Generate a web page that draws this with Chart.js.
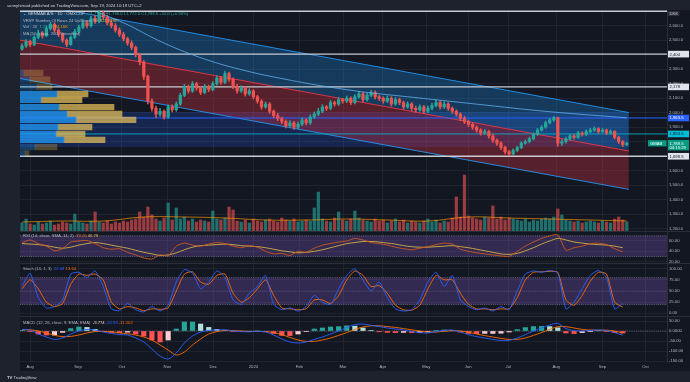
<!DOCTYPE html>
<html><head><meta charset="utf-8"><title>GENMAB A/S · 1D · OMXCOP</title>
<script src="https://cdn.jsdelivr.net/npm/chart.js@4.4.1/dist/chart.umd.min.js"></script>
<style>
html,body{margin:0;padding:0;background:#1e222d;}
#wrap{position:relative;width:690px;height:382px;overflow:hidden;background:#1e222d;}
#plot{position:absolute;left:20px;top:10px;width:670px;height:361px;background:#131722;}
canvas{position:absolute;left:0;}
.sep{position:absolute;left:20px;width:670px;height:1px;background:#2a2e39;}
.t{position:absolute;font-family:"Liberation Sans",Arial,sans-serif;font-size:8.4px;line-height:10px;color:#b2b5be;white-space:nowrap;transform:scale(0.5);transform-origin:0 0;}
</style></head><body>
<div id="wrap">
<div id="plot"></div>
<div class="sep" style="top:231px"></div>
<div class="sep" style="top:263px"></div>
<div class="sep" style="top:316px"></div>
<canvas id="cMain" width="690" height="231" style="top:5px"></canvas>
<canvas id="cVP" width="690" height="231" style="top:5px"></canvas>
<canvas id="cRsi" width="690" height="42" style="top:226px"></canvas>
<canvas id="cSto" width="690" height="63" style="top:258px"></canvas>
<canvas id="cMacd" width="690" height="65" style="top:311px"></canvas>
<div class="t" style="left:7px;top:2.5px;color:#d1d4dc">sunnyhimsid published on TradingView.com, Sep 19, 2024 10:19 UTC+2</div>
<div class="t" style="left:23px;top:11px"><span style="color:#d1d4dc">⌄ GENMAB A/S · 1D · OMXCOP</span> &nbsp;<span style="color:#26a69a">O1,779.5 H1,796.0 L1,772.0 C1,789.5 +10.0 (+0.56%)</span></div>
<div class="t" style="left:23px;top:17.5px">VRVP Number Of Rows 24 Up/Down 70 &nbsp;<span style="color:#e0b848">821.929K</span></div>
<div class="t" style="left:23px;top:24px">Vol · 20 &nbsp;<span style="color:#26a69a">1.237M</span> <span style="color:#ff9800">84.16K</span></div>
<div class="t" style="left:23px;top:30.5px">MA (50, close, 200, Smoothed)</div>
<div class="t" style="left:668px;top:11px;background:#2a2e39;color:#d1d4dc;padding:0 3px">DKK</div>
<div class="t" style="left:23px;top:233px">RSI (14, close, SMA, 14, 2) &nbsp;<span style="color:#e0662a">39.26</span> <span style="color:#e0b848">46.78</span></div>
<div class="t" style="left:23px;top:266px">Stoch (14, 1, 3) &nbsp;<span style="color:#2962ff">22.08</span> <span style="color:#ff6d00">13.64</span></div>
<div class="t" style="left:23px;top:319.5px">MACD (12, 26, close, 9, EMA, EMA) &nbsp;<span style="color:#ffcdd2">-9.774</span> <span style="color:#2962ff">-20.98</span> <span style="color:#ff6d00">-11.202</span></div>
<div class="t" style="left:7px;top:374.5px;color:#d1d4dc"><b>TV</b> TradingView</div>
</div>
<script>
// ---------- DATA ----------
const opens=[2440,2460,2490,2470,2520,2550,2530,2580,2610,2570,
2540,2500,2470,2520,2560,2590,2620,2600,2650,2630,
2690,2660,2620,2600,2570,2540,2510,2480,2450,2400,
2350,2250,2080,2030,1990,2010,1970,2040,2020,2060,
2120,2180,2150,2200,2170,2140,2180,2160,2200,2240,
2210,2270,2230,2180,2150,2170,2130,2150,2110,2080,
2040,2060,2010,1980,1960,1940,1910,1930,1900,1920,
1950,1930,1970,1990,2010,2040,2030,2070,2060,2090,
2080,2100,2070,2110,2130,2090,2120,2140,2110,2100,
2080,2100,2060,2090,2070,2040,2060,2030,2020,2040,
2010,2030,2050,2070,2040,2060,2030,2010,1990,1960,
1940,1920,1900,1880,1860,1870,1840,1810,1790,1760,
1730,1715,1740,1760,1790,1800,1820,1850,1880,1900,
1930,1950,1965,1790,1800,1820,1840,1830,1860,1850,
1870,1880,1890,1870,1880,1860,1870,1830,1800,1779.5];
const highs=[2475,2505,2500,2530,2570,2560,2595,2625,2620,2580,
2550,2510,2530,2575,2605,2640,2635,2665,2670,2710,
2700,2670,2640,2615,2585,2555,2520,2495,2460,2410,
2360,2260,2095,2045,2030,2020,2055,2055,2075,2135,
2195,2190,2215,2210,2180,2195,2190,2215,2255,2250,
2285,2280,2240,2195,2185,2180,2165,2160,2120,2090,
2075,2070,2020,1995,1970,1950,1945,1940,1935,1965,
1960,1985,2005,2030,2055,2050,2085,2080,2105,2100,
2115,2110,2125,2145,2140,2135,2155,2150,2120,2110,
2115,2110,2105,2100,2080,2075,2070,2045,2055,2050,
2045,2065,2085,2080,2075,2070,2040,2020,2000,1975,
1950,1930,1910,1890,1885,1880,1850,1820,1800,1770,
1740,1750,1770,1800,1812,1832,1862,1892,1912,1942,
1962,1975,1970,1815,1832,1852,1850,1872,1868,1882,
1892,1902,1898,1892,1888,1882,1876,1838,1808,1796];
const lows=[2430,2450,2455,2462,2510,2515,2525,2570,2555,2525,
2485,2455,2465,2510,2550,2580,2585,2590,2615,2620,
2645,2605,2585,2555,2525,2495,2465,2435,2385,2330,
2230,2060,2010,1965,1975,1955,1960,2005,2010,2050,
2110,2135,2140,2155,2125,2130,2145,2150,2190,2195,
2200,2215,2165,2135,2140,2115,2120,2095,2065,2025,
2030,1995,1965,1945,1925,1895,1900,1885,1890,1910,
1915,1920,1960,1980,2000,2015,2020,2045,2050,2065,
2070,2055,2060,2100,2075,2080,2110,2095,2085,2065,
2070,2045,2050,2055,2025,2030,2015,2005,2010,1995,
2000,2020,2040,2025,2030,2015,1995,1975,1945,1925,
1905,1885,1865,1845,1850,1825,1795,1775,1745,1715,
1705,1710,1732,1752,1782,1792,1812,1842,1872,1892,
1922,1940,1770,1775,1790,1810,1818,1822,1838,1842,
1862,1872,1858,1862,1848,1852,1818,1788,1766,1772];
const closes=[2460,2490,2470,2520,2550,2530,2580,2610,2570,2540,
2500,2470,2520,2560,2590,2620,2600,2650,2630,2690,
2660,2620,2600,2570,2540,2510,2480,2450,2400,2350,
2250,2080,2030,1990,2010,1970,2040,2020,2060,2120,
2180,2150,2200,2170,2140,2180,2160,2200,2240,2210,
2270,2230,2180,2150,2170,2130,2150,2110,2080,2040,
2060,2010,1980,1960,1940,1910,1930,1900,1920,1950,
1930,1970,1990,2010,2040,2030,2070,2060,2090,2080,
2100,2070,2110,2130,2090,2120,2140,2110,2100,2080,
2100,2060,2090,2070,2040,2060,2030,2020,2040,2010,
2030,2050,2070,2040,2060,2030,2010,1990,1960,1940,
1920,1900,1880,1860,1870,1840,1810,1790,1760,1730,
1715,1740,1760,1790,1800,1820,1850,1880,1900,1930,
1950,1965,1790,1800,1820,1840,1830,1860,1850,1870,
1880,1890,1870,1880,1860,1870,1830,1800,1779.5,1789.5];
const volumes=[8,12,7,6,9,7,8,10,6,7,
9,8,7,17,9,8,7,10,19,9,
8,10,7,9,8,10,9,11,12,19,
14,24,16,12,10,13,28,11,23,12,
14,10,12,9,11,10,9,20,12,11,
13,24,21,10,9,11,8,12,10,9,
11,12,10,9,13,11,10,12,9,10,
11,10,23,39,12,10,9,13,19,11,
10,12,20,13,11,10,9,12,10,11,
8,10,12,9,11,8,10,9,8,10,
12,9,11,8,10,9,13,34,14,56,
15,13,12,11,14,13,25,12,14,11,
13,12,11,10,12,9,11,10,12,13,
12,14,22,16,11,10,9,10,8,9,
10,9,8,10,9,8,12,14,11,9];
const volMAIdx=[0,10,20,30,40,50,60,70,80,90,100,110,120,130,140,149];
const volMA=[9,10,10,14,14,13,11,11,12,11,10,14,13,12,11,10];
const maIdx=[18,25,35,45,55,65,75,85,95,105,115,125,135,149];
const maVals=[2700,2620,2480,2370,2290,2230,2180,2140,2110,2080,2050,2020,1995,1965];

const channelIdx=[-0.5,149.5];
const channelUpper=[2766,2001];
const channelMid=[2501,1736];
const channelLower=[2236,1471];
const vaBand=[2004,1763];
const levelPrices=[2700,2404,2178,1699.5];
const vahPrice=1963.5, pocPrice=1853.5;
const tagPrices=[2404,2178,1963.5,1853.5,1699.5];
const tagTexts=['2,404','2,178','1,963.5','1,853.5','1,699.5'];
const lastPrice=1789.5, lastPriceText='1,789.5', countdownText='04:15:29', symbolTag='GMAB';

const vpRowPrices=[2274,2229,2180,2129,2088,2039,1991,1950,1901,1853,1812,1763,1719];
const vpUp=[4,10,17,37,21,39,47,56,38,36,44,15,5];
const vpDown=[19,20,15,31,41,55,55,60,34,29,41,22,4];
const vaRange=[1790,2150];

const rsiVals=[57,62,55,50,41,45,58,60,61,55,47,44,45,38,33,27,25,33,31,50,56,52,50,54,57,55,50,47,51,48,40,35,36,32,40,38,46,52,55,58,60,65,62,57,55,52,48,45,43,46,49,53,56,54,44,40,37,35,33,31,30,40,50,58,65,70,72,42,47,50,55,56,53,45,39];
const rsiMA=[55,54,53,51,48,46,48,52,55,57,55,52,49,46,42,38,35,32,33,37,43,48,51,52,53,54,53,51,50,49,47,44,41,39,37,38,40,43,47,51,55,57,59,59,58,56,54,51,49,48,48,49,50,51,49,47,44,41,38,35,34,36,41,47,54,60,65,62,58,56,54,53,52,50,47];
const stochK=[60,90,35,12,15,30,88,92,80,95,60,10,6,22,8,3,15,5,18,70,98,90,55,70,95,80,30,20,45,60,85,20,8,12,5,15,40,25,20,55,85,100,75,50,70,35,10,5,8,30,70,92,60,85,30,15,8,12,5,15,8,50,88,95,92,96,90,10,25,55,85,96,80,10,22];
const stochD=[55,75,55,25,15,22,65,88,85,88,75,25,10,15,12,6,10,9,12,50,88,93,70,65,85,88,45,25,35,55,75,40,12,10,8,10,30,30,22,40,75,95,85,60,62,45,18,8,7,18,55,85,75,75,45,20,10,10,8,10,10,35,75,92,93,94,92,30,18,40,72,92,88,25,14];
const macdVals=[8,5,-15,-30,-42,-35,-15,0,8,5,-5,-12,-18,-20,-35,-55,-90,-125,-140,-110,-60,-25,-5,3,5,6,0,-3,-4,-2,-5,-20,-40,-55,-60,-55,-42,-30,-15,0,18,32,35,28,22,15,10,5,-2,-8,-10,-3,3,5,-5,-18,-28,-35,-42,-48,-47,-35,-18,0,15,30,38,12,2,0,3,5,2,-8,-21];
const signalVals=[6,6,0,-10,-22,-28,-27,-20,-10,-3,-2,-5,-10,-14,-20,-30,-45,-70,-95,-120,-105,-70,-40,-15,-3,3,2,0,-2,-2,-3,-8,-18,-32,-45,-52,-52,-45,-35,-22,-8,8,20,26,26,22,18,12,6,0,-5,-5,-2,2,0,-6,-15,-23,-30,-37,-42,-42,-35,-22,-8,8,22,22,15,8,5,4,4,0,-11];
const histVals=[2,-1,-15,-20,-20,-7,12,20,18,8,-3,-7,-8,-6,-15,-25,-45,-55,-45,10,45,45,35,18,8,3,-2,-3,-2,0,-2,-12,-22,-23,-15,-3,10,15,20,22,26,24,15,2,-4,-7,-8,-7,-8,-8,-5,2,5,3,-5,-12,-13,-12,-12,-11,-5,7,17,22,23,22,16,-10,-13,-8,-2,1,-2,-8,-10];
const rsiBand=[70,30];
const stochBand=[80,20];

const monthTickPos=[2.0,13.8,24.6,35.8,47.1,57.0,68.3,79.1,88.9,99.6,109.9,119.8,131.6,143.0,153.6];
const monthTickLabels=['Aug','Sep','Oct','Nov','Dec','2024','Feb','Mar','Apr','May','Jun','Jul','Aug','Sep','Oct'];
const priceTicks=[2600,2500,2300,2200,2100,2000,1900,1800,1600,1500,1400,1300,1200];
const priceTickLabels=['2,600.0','2,500.0','2,300.0','2,200.0','2,100.0','2,000.0','1,900.0','1,800.0','1,600.0','1,500.0','1,400.0','1,300.0','1,200.0'];
const rsiTicks=[60,40,20], rsiTickLabels=['60.00','40.00','20.00'];
const stochTicks=[100,75,50,25,0], stochTickLabels=['100.00','75.00','50.00','25.00','0.00'];
const macdTicks=[50,0,-50,-100,-150], macdTickLabels=['50.00','0.0000','-50.00','-100.00','-150.00'];

// ---------- CONFIG ----------
const F='"Liberation Sans", Arial, sans-serif';
const FS=4.2, TXT='#b2b5be', GRID='rgba(42,46,57,0.55)';
const XMIN=-0.5, XMAX=158.9;
const PMIN=1184.1, PMAX=2708.3;

function xScale(show){return {type:'linear',min:XMIN,max:XMAX,offset:false,
 grid:{color:GRID,drawTicks:false,offset:false},border:{display:false},
 afterBuildTicks:s=>{s.ticks=monthTickPos.map(v=>({value:v}));},
 ticks:{display:show,autoSkip:false,maxRotation:0,minRotation:0,padding:2.5,color:TXT,font:{size:FS,family:F},callback:(v,i)=>monthTickLabels[i]},
 afterFit:s=>{s.height=show?9:0;}};}
function yScale(min,max,tv,tl){return {type:'linear',position:'right',min:min,max:max,
 afterBuildTicks:s=>{s.ticks=tv.map(v=>({value:v}));},
 ticks:{autoSkip:false,padding:2,color:TXT,font:{size:FS,family:F},callback:(v,i)=>tl[i]},
 grid:{color:GRID,drawTicks:false},border:{display:true,color:'#2a2e39'},
 afterFit:s=>{s.width=23;}};}
function opts(scales){return {responsive:false,animation:false,devicePixelRatio:1,events:[],
 layout:{padding:{left:20,right:0,top:5,bottom:5}},
 plugins:{legend:{display:false},tooltip:{enabled:false}},scales:scales};}
function hline(y,color,w,dash,extra){return Object.assign({type:'line',data:[{x:XMIN,y:y},{x:XMAX,y:y}],borderColor:color,borderWidth:w,borderDash:dash||[],pointRadius:0,fill:false},extra||{});}

const isUp=closes.map((c,i)=>c>=opens[i]);
const cCol=isUp.map(u=>u?'#26a69a':'#ef5350');
const vCol=isUp.map(u=>u?'rgba(38,166,154,0.62)':'rgba(239,83,80,0.62)');

const tagPlugin={id:'tags',afterDraw(chart){
 const ctx=chart.ctx, ys=chart.scales.y;
 ctx.save(); ctx.font=FS+'px '+F; ctx.textBaseline='middle'; ctx.textAlign='left';
 const st=[['#e0e3eb','#131722'],['#e0e3eb','#131722'],['#2962ff','#ffffff'],['#00bcd4','#131722'],['#e0e3eb','#131722']];
 tagPrices.forEach((p,k)=>{const y=ys.getPixelForValue(p);
   ctx.fillStyle=st[k][0]; ctx.fillRect(668,y-3.3,21,6.6);
   ctx.fillStyle=st[k][1]; ctx.fillText(tagTexts[k],669.5,y+0.3);});
 const y=ys.getPixelForValue(lastPrice);
 ctx.fillStyle='#089981'; ctx.fillRect(668,y-3.3,21,10.5); ctx.fillRect(648,y-3,18.5,6.2);
 ctx.fillStyle='#ffffff'; ctx.fillText(lastPriceText,669.5,y+0.3); ctx.fillText(countdownText,669.5,y+4.9); ctx.fillText(symbolTag,650,y+0.3);
 ctx.restore();}};

// ---------- MAIN PANE ----------
new Chart(document.getElementById('cMain'),{type:'bar',data:{datasets:[
 {type:'line',data:[{x:channelIdx[0],y:vaBand[0]},{x:channelIdx[1],y:vaBand[0]}],fill:{value:vaBand[1]},backgroundColor:'rgba(41,98,255,0.2)',borderWidth:0,pointRadius:0,order:30},
 {type:'line',data:channelIdx.map((x,k)=>({x:x,y:channelUpper[k]})),fill:'+1',backgroundColor:'rgba(33,150,243,0.28)',borderColor:'rgba(33,150,243,0.9)',borderWidth:1,pointRadius:0,order:29},
 {type:'line',data:channelIdx.map((x,k)=>({x:x,y:channelMid[k]})),fill:'+1',backgroundColor:'rgba(242,54,69,0.3)',borderColor:'rgba(242,54,69,0.9)',borderWidth:1,pointRadius:0,order:28},
 {type:'line',data:channelIdx.map((x,k)=>({x:x,y:channelLower[k]})),fill:false,borderColor:'rgba(33,150,243,0.9)',borderWidth:1,pointRadius:0,order:27},
 ...levelPrices.map(p=>hline(p,'#c9ccd3',1.4,[],{order:26})),
 hline(vahPrice,'#2962ff',1,[],{order:25}),
 hline(pocPrice,'#00bcd4',0.8,[],{order:25}),
 {type:'bar',yAxisID:'yv',data:volumes.map((v,i)=>({x:i,y:v})),backgroundColor:vCol,barThickness:2.6,grouped:false,borderWidth:0,order:20},
 {type:'line',yAxisID:'yv',data:volMAIdx.map((x,k)=>({x:x,y:volMA[k]})),borderColor:'rgba(255,152,0,0.75)',borderWidth:0.9,pointRadius:0,tension:0.4,fill:false,order:19},
 {type:'bar',data:highs.map((h,i)=>({x:i,y:[lows[i],h]})),backgroundColor:cCol,barThickness:0.9,grouped:false,borderWidth:0,order:10},
 {type:'bar',data:opens.map((o,i)=>({x:i,y:[o,closes[i]]})),backgroundColor:cCol,barThickness:2.6,grouped:false,borderWidth:0,minBarLength:0.8,order:9},
 {type:'line',data:maIdx.map((x,k)=>({x:x,y:maVals[k]})),borderColor:'rgba(100,181,246,0.85)',borderWidth:0.9,pointRadius:0,tension:0.4,fill:false,order:8}
]},options:opts({x:xScale(false),y:yScale(PMIN,PMAX,priceTicks,priceTickLabels),yv:{type:'linear',display:false,position:'left',min:0,max:221}}),plugins:[tagPlugin]});

// ---------- VOLUME PROFILE ----------
const inVA=p=>p>=vaRange[0]&&p<=vaRange[1];
new Chart(document.getElementById('cVP'),{type:'bar',data:{datasets:[
 {data:vpRowPrices.map((p,k)=>({y:p,x:[0,vpUp[k]]})),backgroundColor:vpRowPrices.map(p=>inVA(p)?'rgba(33,150,243,0.78)':'rgba(33,150,243,0.3)'),barThickness:5.6,grouped:false,borderWidth:0},
 {data:vpRowPrices.map((p,k)=>({y:p,x:[vpUp[k],vpUp[k]+vpDown[k]]})),backgroundColor:vpRowPrices.map(p=>inVA(p)?'rgba(240,200,90,0.7)':'rgba(240,200,90,0.28)'),barThickness:5.6,grouped:false,borderWidth:0}
]},options:{responsive:false,animation:false,devicePixelRatio:1,events:[],indexAxis:'y',
 layout:{padding:{left:20,right:23,top:5,bottom:5}},plugins:{legend:{display:false},tooltip:{enabled:false}},
 scales:{x:{type:'linear',min:0,max:647,display:false},y:{type:'linear',min:PMIN,max:PMAX,display:false,offset:false,grid:{offset:false}}}}});

// ---------- RSI ----------
const indIdx=rsiVals.map((_,j)=>2*j);
const DOT='rgba(150,152,162,0.85)';
new Chart(document.getElementById('cRsi'),{type:'line',data:{datasets:[
 {data:[{x:XMIN,y:rsiBand[0]},{x:XMAX,y:rsiBand[0]}],fill:{value:rsiBand[1]},backgroundColor:'rgba(126,87,194,0.3)',borderColor:DOT,borderWidth:0.7,borderDash:[1,1.2],pointRadius:0,order:10},
 hline(rsiBand[1],DOT,0.7,[1,1.2],{order:9}),
 {data:indIdx.map((x,j)=>({x:x,y:rsiMA[j]})),borderColor:'#d4b145',borderWidth:0.9,pointRadius:0,tension:0.3,fill:false,order:2},
 {data:indIdx.map((x,j)=>({x:x,y:rsiVals[j]})),borderColor:'#cf5b20',borderWidth:0.9,pointRadius:0,tension:0.2,fill:false,order:1}
]},options:opts({x:xScale(false),y:yScale(17.3,79.4,rsiTicks,rsiTickLabels)})});

// ---------- STOCH ----------
new Chart(document.getElementById('cSto'),{type:'line',data:{datasets:[
 {data:[{x:XMIN,y:stochBand[0]},{x:XMAX,y:stochBand[0]}],fill:{value:stochBand[1]},backgroundColor:'rgba(126,87,194,0.3)',borderColor:DOT,borderWidth:0.7,borderDash:[1,1.2],pointRadius:0,order:10},
 hline(stochBand[1],DOT,0.7,[1,1.2],{order:9}),
 hline(50,'rgba(150,152,162,0.4)',0.7,[1,1.2],{order:9}),
 {data:indIdx.map((x,j)=>({x:x,y:stochD[j]})),borderColor:'#ff6d00',borderWidth:0.9,pointRadius:0,tension:0.2,fill:false,order:2},
 {data:indIdx.map((x,j)=>({x:x,y:stochK[j]})),borderColor:'#2962ff',borderWidth:0.9,pointRadius:0,tension:0.2,fill:false,order:1}
]},options:opts({x:xScale(false),y:yScale(-6.05,112.8,stochTicks,stochTickLabels)})});

// ---------- MACD ----------
const hCol=histVals.map((h,j)=>{const p=j?histVals[j-1]:h;return h>=0?(h>=p?'#26a69a':'#b2dfdb'):(h<p?'#ff5252':'#ffcdd2');});
new Chart(document.getElementById('cMacd'),{type:'bar',data:{datasets:[
 hline(0,DOT,0.7,[1,1.2],{order:10}),
 {type:'bar',data:indIdx.map((x,j)=>({x:x,y:histVals[j]})),backgroundColor:hCol,barThickness:4.5,grouped:false,borderWidth:0,order:5},
 {type:'line',data:indIdx.map((x,j)=>({x:x,y:signalVals[j]})),borderColor:'#ff6d00',borderWidth:0.9,pointRadius:0,tension:0.3,fill:false,order:2},
 {type:'line',data:indIdx.map((x,j)=>({x:x,y:macdVals[j]})),borderColor:'#2962ff',borderWidth:0.9,pointRadius:0,tension:0.3,fill:false,order:1}
]},options:opts({x:xScale(true),y:yScale(-155,75,macdTicks,macdTickLabels)})});
</script>
</body></html>
